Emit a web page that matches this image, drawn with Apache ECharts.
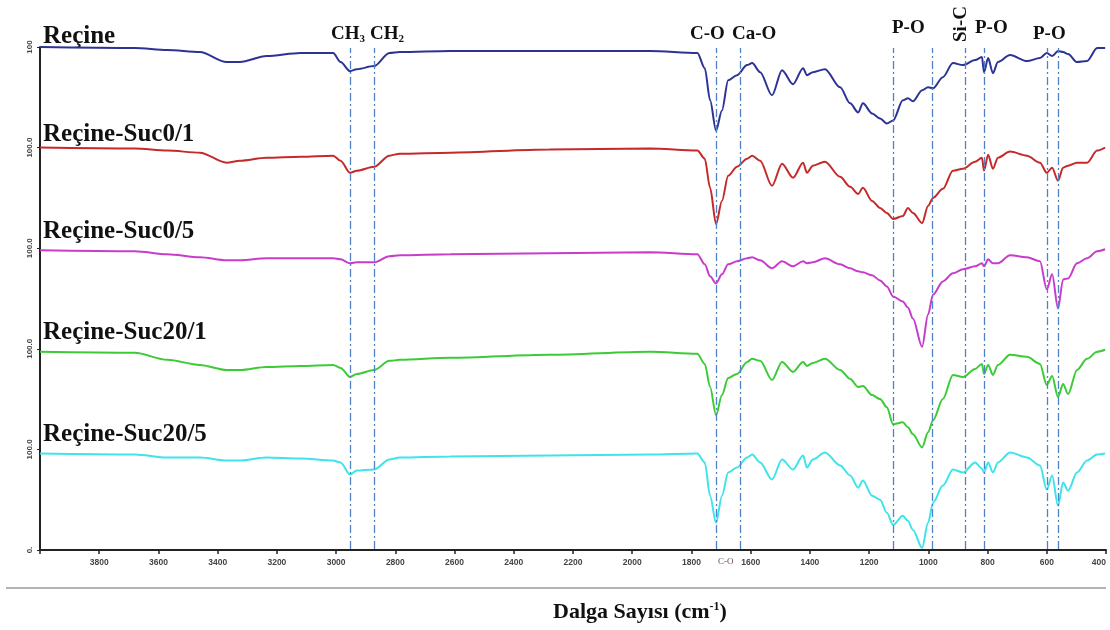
<!DOCTYPE html>
<html>
<head>
<meta charset="utf-8">
<title>FTIR</title>
<script src="https://cdn.jsdelivr.net/npm/echarts@6/dist/echarts.min.js"></script>
<style>
html, body { margin: 0; padding: 0; background: #fff; }
#chart { width: 1110px; height: 630px; }
</style>
</head>
<body>
<div id="chart"></div>
<script>
// wavenumbers (cm-1) shared by all spectra
const wn = [4000, 3680, 3570, 3460, 3370, 3325, 3235, 3120, 3010, 2985, 2953, 2930, 2872, 2820, 2785, 2615, 2280, 1940,
  1780, 1755, 1737, 1717, 1697, 1676, 1646, 1612, 1595, 1568, 1528, 1494, 1457, 1423, 1410, 1390, 1349, 1298, 1264,
  1237, 1221, 1190, 1163, 1140, 1119, 1086, 1069, 1052, 1021, 1001, 984, 951, 917, 883, 842, 819, 812, 798, 782,
  765, 724, 667, 623, 600, 582, 562, 545, 528, 498, 464, 430, 403];

// transmittance of each spectrum, its own 100 = top of its band
const recine = [100, 99, 97, 95, 85, 85, 91, 94, 94, 85, 76, 78, 81, 94, 95, 96, 96, 96,
  94, 79, 47, 17, 37, 67, 72, 82, 84, 75, 52, 77, 63, 79, 72, 75, 78, 60, 44,
  35, 44, 34, 29, 24, 27, 47, 49, 46, 57, 60, 59, 70, 84, 82, 87, 90, 75, 89, 74,
  85, 92, 86, 89, 94, 91, 96, 95, 93, 85, 86, 99, 99];
const suc01 = [100, 99, 97, 95, 85, 87, 90, 91, 92, 87, 75, 77, 81, 92, 94, 95, 98, 99,
  97, 89, 60, 24, 47, 72, 81, 89, 92, 87, 62, 84, 70, 85, 75, 82, 86, 71, 61,
  54, 60, 47, 40, 35, 29, 32, 40, 35, 25, 42, 50, 59, 77, 79, 86, 90, 77, 93, 79,
  90, 96, 92, 85, 75, 80, 67, 80, 82, 85, 85, 97, 100];
const suc05 = [98, 97, 94, 91, 88, 88, 90, 90, 90, 89, 85, 86, 86, 92, 93, 94, 95, 96,
  94, 84, 72, 65, 74, 84, 87, 90, 91, 88, 80, 87, 82, 87, 85, 86, 90, 84, 80,
  77, 76, 73, 68, 62, 52, 47, 41, 30, 2, 34, 54, 67, 75, 79, 82, 85, 82, 89, 85,
  85, 93, 91, 87, 59, 74, 40, 69, 70, 85, 90, 97, 99];
const suc201 = [97, 96, 89, 84, 79, 79, 82, 83, 84, 81, 72, 75, 79, 88, 89, 91, 94, 97,
  95, 85, 62, 34, 54, 71, 75, 87, 90, 88, 69, 87, 77, 87, 83, 86, 90, 79, 70,
  62, 63, 54, 50, 42, 25, 27, 22, 15, 2, 17, 29, 50, 74, 72, 80, 85, 75, 84, 74,
  84, 94, 92, 85, 64, 73, 52, 65, 55, 79, 90, 97, 99];
const suc205 = [96, 95, 92, 92, 89, 89, 92, 91, 89, 87, 75, 79, 80, 90, 92, 93, 94, 95,
  96, 87, 54, 27, 54, 77, 82, 92, 95, 87, 70, 90, 80, 94, 82, 90, 97, 84, 74,
  62, 69, 54, 50, 37, 25, 34, 29, 20, 2, 27, 47, 64, 80, 77, 87, 81, 77, 87, 77,
  87, 97, 92, 84, 60, 74, 44, 67, 59, 77, 89, 95, 96];

const names = ['Reçine', 'Reçine-Suc0/1', 'Reçine-Suc0/5', 'Reçine-Suc20/1', 'Reçine-Suc20/5'];
const offsets = [400, 300, 200, 100, 0];
const colors = ['#2c3394', '#c42a2a', '#c83ccc', '#3ccb37', '#3fe3ea'];

// band positions marked with dash-dot lines
const bands = [2953, 2872, 1717, 1636, 1119, 988, 877, 812, 600, 560];

const xTicks = [3800, 3600, 3400, 3200, 3000, 2800, 2600, 2400, 2200, 2000, 1800, 1600, 1400, 1200, 1000, 800, 600, 400];
const yLabels = ['0.', '100.0', '100.0', '100.0', '100.0', '100'];

const spectra = [recine, suc01, suc05, suc201, suc205];

const chart = echarts.init(document.getElementById('chart'));

const series = [{
  type: 'line',
  data: [],
  silent: true,
  z: 1,
  markLine: {
    silent: true,
    symbol: 'none',
    label: { show: false },
    lineStyle: { color: '#4f82c6', width: 1.3, type: [8, 3, 2, 3] },
    data: bands.map(b => [{ coord: [b, 1] }, { coord: [b, 499] }])
  }
}];
spectra.forEach((arr, k) => {
  series.push({
    name: names[k],
    type: 'line',
    showSymbol: false,
    smooth: 0.3,
    smoothMonotone: 'x',
    z: 3,
    lineStyle: { color: colors[k], width: 2 },
    data: arr.map((v, i) => [wn[i], offsets[k] + v])
  });
});

const labelFont = 'Liberation Serif';
const seriesLabelY = [37, 135, 232, 333, 435];
const graphics = names.map((n, k) => ({
  type: 'text',
  left: 43,
  top: seriesLabelY[k] - 13,
  style: { text: n, font: 'bold 25px "Liberation Serif"', fill: '#111' }
}));

const topText = (x, y, txt) => ({
  type: 'text', left: x, top: y,
  style: { text: txt, font: 'bold 19px "Liberation Serif"', fill: '#111' }
});
graphics.push(
  { type: 'text', left: 331, top: 25, style: { text: '{a|CH}{s|3}', rich: { a: { fontFamily: labelFont, fontWeight: 'bold', fontSize: 19, fill: '#111' }, s: { fontFamily: labelFont, fontWeight: 'bold', fontSize: 11, fill: '#111', padding: [10, 0, 0, 0] } } } },
  { type: 'text', left: 370, top: 25, style: { text: '{a|CH}{s|2}', rich: { a: { fontFamily: labelFont, fontWeight: 'bold', fontSize: 19, fill: '#111' }, s: { fontFamily: labelFont, fontWeight: 'bold', fontSize: 11, fill: '#111', padding: [10, 0, 0, 0] } } } },
  topText(690, 25, 'C-O'),
  topText(732, 25, 'Ca-O'),
  topText(892, 19, 'P-O'),
  topText(975, 19, 'P-O'),
  topText(1033, 25, 'P-O'),
  { type: 'text', x: 961, y: 24, rotation: Math.PI / 2,
    style: { text: 'Si-C', font: 'bold 19px "Liberation Serif"', fill: '#111', align: 'center', verticalAlign: 'middle' } },
  { type: 'text', left: 718, top: 557, style: { text: 'C-O', font: '9px "Liberation Serif"', fill: '#6a4a5a' } },
  { type: 'line', shape: { x1: 6, y1: 588, x2: 1106, y2: 588 }, style: { stroke: '#b4b4b4', lineWidth: 2 } },
  { type: 'text', x: 640, y: 612,
    style: { text: '{t|Dalga Sayısı (cm}{s|-1}{t|)}', align: 'center', verticalAlign: 'middle',
      rich: { t: { fontFamily: labelFont, fontWeight: 'bold', fontSize: 22, fill: '#111' },
              s: { fontFamily: labelFont, fontWeight: 'bold', fontSize: 12, fill: '#111', padding: [0, 0, 10, 0] } } } }
);

chart.setOption({
  animation: false,
  grid: { left: 40, right: 4, top: 47, bottom: 80 },
  xAxis: {
    type: 'value',
    min: 400,
    max: 4000,
    interval: 200,
    inverse: true,
    axisLine: { lineStyle: { color: '#222', width: 2 } },
    axisTick: { length: 4, lineStyle: { color: '#222', width: 1.5 } },
    splitLine: { show: false },
    axisLabel: {
      margin: 8,
      fontSize: 8.5,
      fontWeight: 'bold',
      color: '#444',
      fontFamily: 'Liberation Sans',
      alignMinLabel: 'right',
      formatter: v => (xTicks.indexOf(v) >= 0 ? String(v) : '')
    }
  },
  yAxis: {
    type: 'value',
    min: 0,
    max: 500,
    interval: 100,
    axisLine: { show: true, lineStyle: { color: '#222', width: 2 } },
    axisTick: { show: true, length: 3, lineStyle: { color: '#222' } },
    splitLine: { show: false },
    axisLabel: {
      rotate: 90,
      margin: 6,
      fontSize: 8,
      fontWeight: 'bold',
      color: '#444',
      fontFamily: 'Liberation Sans',
      formatter: v => yLabels[Math.round(v / 100)]
    }
  },
  series: series,
  graphic: graphics
});
</script>
</body>
</html>
